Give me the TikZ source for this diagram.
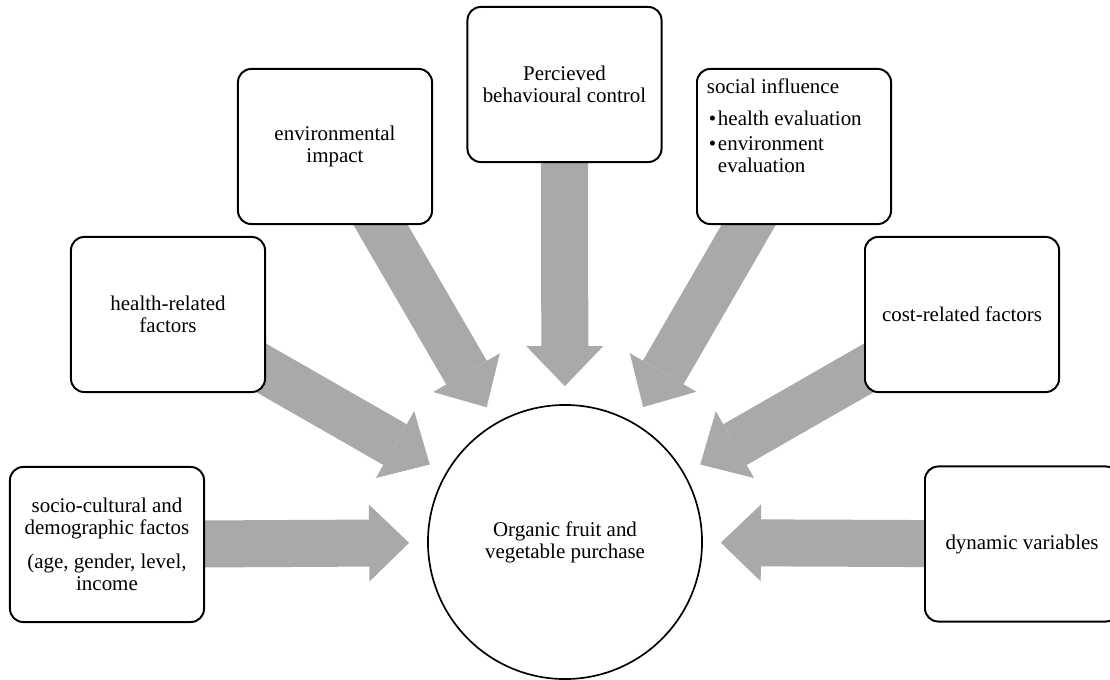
\documentclass[tikz,border=0pt]{standalone}
\usepackage{fontspec}
\setmainfont{Liberation Serif}
\usetikzlibrary{arrows.meta,backgrounds}
\definecolor{arrowgray}{RGB}{169,169,169}
\begin{document}
\begin{tikzpicture}[x=0.025cm, y=0.025cm, font=\fontsize{14.9}{15.6}\selectfont,
	factor/.style={draw, line width=1.4pt, rounded corners=0.33cm, fill=white, minimum width=4.85cm, minimum height=3.875cm, align=center},
	fat/.style={draw=arrowgray, line width=1.175cm, shorten >=0.45cm, -{Triangle[width=1.925cm, length=1cm, line width=0pt]}}]
	\useasboundingbox (0, 0) rectangle (1110, 679);
	\node[circle, draw, line width=1.2pt, fill=white, minimum size=6.85cm, align=center] (0) at (565, 137) {Organic fruit and\\vegetable purchase};
	\node[factor] (1) at (107, 134.5) {socio-cultural and\\demographic factos\\[0.29cm](age, gender, level,\\income};
	\node[factor] (2) at (168, 364.5) {health-related\\factors};
	\node[factor] (3) at (335, 532.5) {environmental\\impact};
	\node[factor] (4) at (564.5, 594.5) {Percieved\\behavioural control};
	\node[factor, inner sep=0pt] (5) at (794, 532.5) {\parbox[c][3.875cm][t]{4.35cm}{\raggedright\vspace*{0.25cm}social influence\par\vspace{0.24cm}\hangindent=0.275cm\makebox[0.275cm][l]{\hspace{0.05cm}\textbullet}health evaluation\par\vspace{0.09cm}\hangindent=0.275cm\makebox[0.275cm][l]{\hspace{0.05cm}\textbullet}environment\newline evaluation}};
	\node[factor] (6) at (962, 364.5) {cost-related factors};
	\node[factor] (7) at (1022, 135) {dynamic variables};
	\begin{scope}[on background layer]
		\draw[fat] (1.center) to (0);
		\draw[fat] (2.center) to (0);
		\draw[fat] (3.center) to (0);
		\draw[fat] (4.center) to (0);
		\draw[fat] (5.center) to (0);
		\draw[fat] (6.center) to (0);
		\draw[fat] (7.center) to (0);
	\end{scope}
\end{tikzpicture}
\end{document}
